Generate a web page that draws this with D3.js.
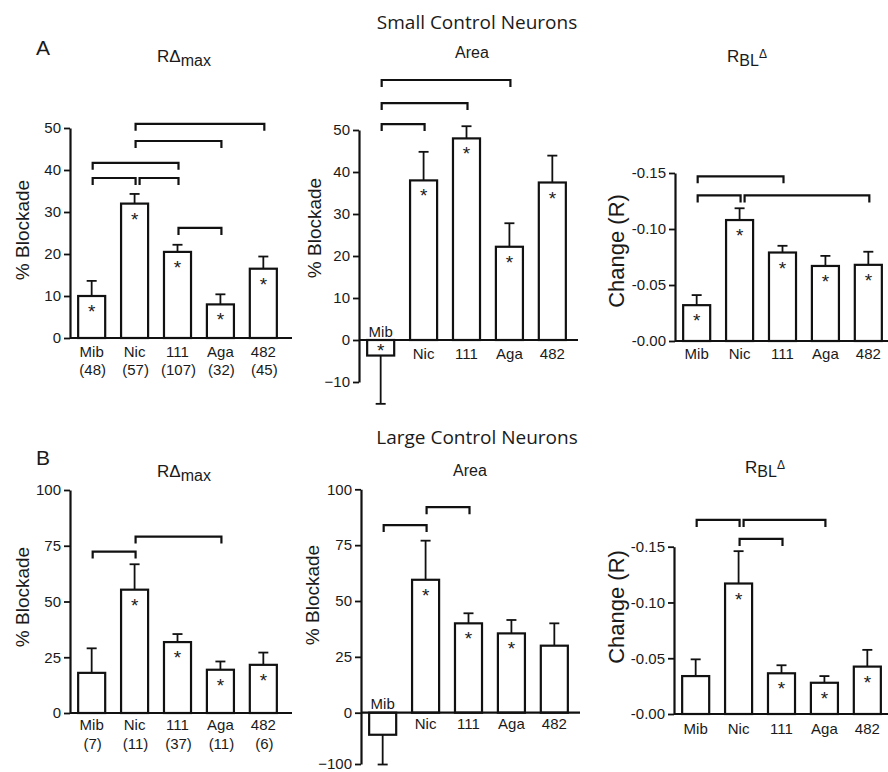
<!DOCTYPE html>
<html>
<head>
<meta charset="utf-8">
<script src="https://cdn.jsdelivr.net/npm/d3@7"></script>
<style>
  body { margin: 0; background: #fff; }
  text { font-family: "Liberation Sans", Arial, sans-serif; fill: #1a1a1a; }
</style>
</head>
<body>
<div id="chart"></div>
<script>
let width = 888,
    height = 772

// categories and group sizes
const categories = ["Mib", "Nic", "111", "Aga", "482"]
const smallN = ["(48)", "(57)", "(107)", "(32)", "(45)"]
const largeN = ["(7)", "(11)", "(37)", "(11)", "(6)"]

// small control neurons
const smallRmaxMean = [10, 32, 20.5, 8, 16.5]
const smallRmaxSem = [3.6, 2.3, 1.7, 2.4, 2.9]
const smallRmaxStar = [1, 1, 1, 1, 1]
const smallRmaxBrackets = [[1, 4, 51], [1, 3, 46.9], [0, 2, 41.7], [0, 1, 38.1], [1, 2, 38.1], [2, 3, 26.2]]

const smallAreaMean = [-3.7, 38, 48, 22.2, 37.5]
const smallAreaSem = [11.5, 6.8, 2.9, 5.6, 6.4]
const smallAreaStar = [1, 1, 1, 1, 1]
const smallAreaBrackets = [[0, 1, 51.4], [0, 2, 56.4], [0, 3, 61.9]]

const smallRblMean = [-0.032, -0.108, -0.079, -0.067, -0.068]
const smallRblSem = [0.009, 0.0105, 0.006, 0.009, 0.0117]
const smallRblStar = [1, 1, 1, 1, 1]
const smallRblBrackets = [[0, 2, -0.147], [0, 1, -0.130], [1, 4, -0.130]]

// large control neurons
const largeRmaxMean = [18, 55.3, 31.8, 19.4, 21.6]
const largeRmaxSem = [11, 11.4, 3.6, 3.7, 5.5]
const largeRmaxStar = [0, 1, 1, 1, 1]
const largeRmaxBrackets = [[0, 1, 72.4], [1, 3, 79.1]]

const largeAreaMean = [-43, 59.5, 40, 35.5, 30]
const largeAreaSem = [58, 17.5, 4.5, 6, 10]
const largeAreaStar = [0, 1, 1, 1, 0]
const largeAreaBrackets = [[0, 1, 84], [1, 2, 92]]

const largeRblMean = [-0.034, -0.117, -0.0365, -0.028, -0.0425]
const largeRblSem = [0.015, 0.029, 0.0072, 0.006, 0.015]
const largeRblStar = [0, 1, 1, 1, 1]
const largeRblBrackets = [[0, 1, -0.174], [1, 3, -0.174], [1, 2, -0.157]]

// tick labels
const pctTicks = [0, 10, 20, 30, 40, 50]
const pctTicksArea = [-10, 0, 10, 20, 30, 40, 50]
const pctTicksLarge = [0, 25, 50, 75, 100]
const pctTicksLargeArea = [-100, 0, 25, 50, 75, 100]
const rTicks = [0, -0.05, -0.10, -0.15]
const rTickLabels = ["-0.00", "-0.05", "-0.10", "-0.15"]

let svg = d3.select("#chart").append("svg")
  .attr("width", width)
  .attr("height", height)

function panel(cfg) {
  let g = svg.append("g")

  let x = d3.scaleBand()
    .domain(categories)
    .range([cfg.ax, cfg.ax + 43 * 5])
    .paddingInner(0.37)
    .paddingOuter(0.19)

  let y = d3.scaleLinear()
    .domain(cfg.domain)
    .range(cfg.range)

  let y0 = y(0)
  let rows = categories.map((c, i) => ({
    cat: c, mean: cfg.mean[i], sem: cfg.sem[i], star: cfg.star[i], n: cfg.n ? cfg.n[i] : null
  }))

  // error bars (one sided, away from zero)
  rows.forEach(d => {
    let cx = x(d.cat) + x.bandwidth() / 2
    let end = d.mean + Math.sign(d.mean) * d.sem
    g.append("line")
      .attr("x1", cx).attr("x2", cx)
      .attr("y1", y(d.mean)).attr("y2", y(end))
      .attr("stroke", "#111").attr("stroke-width", 1.8)
    g.append("line")
      .attr("x1", cx - 5).attr("x2", cx + 5)
      .attr("y1", y(end)).attr("y2", y(end))
      .attr("stroke", "#111").attr("stroke-width", 1.8)
  })

  // bars
  g.selectAll(".bar")
    .data(rows)
    .enter().append("rect")
    .attr("class", "bar")
    .attr("x", d => x(d.cat))
    .attr("y", d => Math.min(y0, y(d.mean)))
    .attr("width", x.bandwidth())
    .attr("height", d => Math.abs(y(d.mean) - y0))
    .attr("fill", "#fff")
    .attr("stroke", "#111")
    .attr("stroke-width", 2.2)

  // asterisks
  g.selectAll(".star")
    .data(rows.filter(d => d.star))
    .enter().append("text")
    .attr("x", d => x(d.cat) + x.bandwidth() / 2)
    .attr("y", d => d.mean >= 0 || cfg.reversed ? Math.min(y0, y(d.mean)) + 22 : y0 + 17)
    .attr("text-anchor", "middle")
    .style("font-size", "19px")
    .text("*")

  // y axis
  let axis = d3.axisLeft(y)
    .tickValues(cfg.ticks)
    .tickSize(6)
    .tickSizeOuter(0)
  if (cfg.tickLabels) axis.tickFormat((d, i) => cfg.tickLabels[i])
  else axis.tickFormat(d3.format("d"))

  let ga = g.append("g")
    .attr("transform", "translate(" + cfg.ax + ",0)")
    .call(axis)
  ga.select(".domain").attr("stroke", "#111").attr("stroke-width", 2.2)
  ga.selectAll(".tick line").attr("stroke", "#111").attr("stroke-width", 1.8)
  ga.selectAll(".tick text")
    .style("font-size", "15px")
    .style("font-family", "'Liberation Sans', Arial, sans-serif")
    .attr("fill", "#1a1a1a")

  // zero line
  g.append("line")
    .attr("x1", cfg.ax).attr("x2", cfg.xEnd)
    .attr("y1", y0).attr("y2", y0)
    .attr("stroke", "#111").attr("stroke-width", 2.2)

  // category labels
  rows.forEach(d => {
    let cx = x(d.cat) + x.bandwidth() / 2
    let above = d.mean < 0 && !cfg.reversed
    g.append("text")
      .attr("x", cx)
      .attr("y", above ? y0 - 9 : y0 + cfg.labelDy)
      .attr("text-anchor", "middle")
      .attr("dominant-baseline", "central")
      .style("font-size", "15px")
      .text(d.cat)
    if (d.n) {
      g.append("text")
        .attr("x", cx + 1)
        .attr("y", y0 + cfg.labelDy + cfg.nDy)
        .attr("text-anchor", "middle")
        .attr("dominant-baseline", "central")
        .style("font-size", "15px")
        .text(d.n)
    }
  })

  // significance brackets
  cfg.brackets.forEach(b => {
    let shared = cfg.brackets.some(o => o !== b && o[1] === b[0] && o[2] === b[2])
    let x1 = x(categories[b[0]]) + x.bandwidth() / 2 + (shared ? 5 : 1)
    let x2 = x(categories[b[1]]) + x.bandwidth() / 2 + 1
    let by = y(b[2])
    g.append("path")
      .attr("d", "M" + x1 + "," + (by + 7) + "V" + by + "H" + x2 + "V" + (by + 7))
      .attr("fill", "none")
      .attr("stroke", "#111")
      .attr("stroke-width", 2.2)
  })

  // y label
  g.append("text")
    .attr("transform", "translate(" + cfg.ylabX + "," + cfg.ylabY + ") rotate(-90)")
    .attr("text-anchor", "middle")
    .attr("dominant-baseline", "central")
    .style("font-size", cfg.ylabSize + "px")
    .text(cfg.ylabel)

  // panel title
  let t = g.append("text")
    .attr("x", cfg.titleX)
    .attr("y", cfg.titleY)
    .attr("text-anchor", "middle")
    .attr("dominant-baseline", "central")
    .style("font-size", "16px")
  if (cfg.title === "rmax") {
    t.append("tspan").style("font-size", "17px").text("R\u0394")
    t.append("tspan").attr("dy", 4).text("max")
  } else if (cfg.title === "rbl") {
    t.append("tspan").style("font-size", "17px").text("R")
    t.append("tspan").attr("dy", 4).text("BL")
    t.append("tspan").attr("dy", -6).style("font-size", "12px").text("\u0394")
  } else {
    t.text(cfg.title)
  }
}

// row A: small control neurons
panel({ ax: 70, xEnd: 292, domain: [0, 50], range: [338, 128], ticks: pctTicks,
  mean: smallRmaxMean, sem: smallRmaxSem, star: smallRmaxStar, n: smallN, brackets: smallRmaxBrackets,
  labelDy: 13, nDy: 18.5, ylabel: "% Blockade", ylabSize: 19, ylabX: 22, ylabY: 230, title: "rmax", titleX: 184, titleY: 56 })

panel({ ax: 359, xEnd: 578, domain: [-10, 50], range: [382, 130], ticks: pctTicksArea,
  mean: smallAreaMean, sem: smallAreaSem, star: smallAreaStar, brackets: smallAreaBrackets,
  labelDy: 13, ylabel: "% Blockade", ylabSize: 19, ylabX: 314, ylabY: 228, title: "Area", titleX: 472, titleY: 52 })

panel({ ax: 675, xEnd: 888, domain: [0, -0.15], range: [341, 173], ticks: rTicks, tickLabels: rTickLabels, reversed: true,
  mean: smallRblMean, sem: smallRblSem, star: smallRblStar, brackets: smallRblBrackets,
  labelDy: 12, ylabel: "Change (R)", ylabSize: 22, ylabX: 616, ylabY: 251, title: "rbl", titleX: 747, titleY: 56 })

// row B: large control neurons
panel({ ax: 70, xEnd: 292, domain: [0, 100], range: [713, 490], ticks: pctTicksLarge,
  mean: largeRmaxMean, sem: largeRmaxSem, star: largeRmaxStar, n: largeN, brackets: largeRmaxBrackets,
  labelDy: 11, nDy: 19, ylabel: "% Blockade", ylabSize: 19, ylabX: 22, ylabY: 597, title: "rmax", titleX: 184, titleY: 471 })

panel({ ax: 361, xEnd: 580, domain: [-100, 0, 100], range: [764, 712.7, 489.3], ticks: pctTicksLargeArea,
  mean: largeAreaMean, sem: largeAreaSem, star: largeAreaStar, brackets: largeAreaBrackets,
  labelDy: 11, ylabel: "% Blockade", ylabSize: 19, ylabX: 312, ylabY: 595, title: "Area", titleX: 470, titleY: 470 })

panel({ ax: 674, xEnd: 888, domain: [0, -0.15], range: [714, 546.7], ticks: rTicks, tickLabels: rTickLabels, reversed: true,
  mean: largeRblMean, sem: largeRblSem, star: largeRblStar, brackets: largeRblBrackets,
  labelDy: 14, ylabel: "Change (R)", ylabSize: 22, ylabX: 616, ylabY: 607, title: "rbl", titleX: 765, titleY: 467 })

// section headings and panel letters
svg.append("text")
  .attr("x", 477).attr("y", 22)
  .attr("text-anchor", "middle").attr("dominant-baseline", "central")
  .style("font-family", "'Open Sans', sans-serif").style("font-size", "19px")
  .text("Small Control Neurons")
svg.append("text")
  .attr("x", 477).attr("y", 437)
  .attr("text-anchor", "middle").attr("dominant-baseline", "central")
  .style("font-family", "'Open Sans', sans-serif").style("font-size", "19px")
  .text("Large Control Neurons")
svg.append("text")
  .attr("x", 36).attr("y", 47)
  .attr("dominant-baseline", "central")
  .style("font-size", "21px")
  .text("A")
svg.append("text")
  .attr("x", 36).attr("y", 457)
  .attr("dominant-baseline", "central")
  .style("font-size", "21px")
  .text("B")
</script>
</body>
</html>
